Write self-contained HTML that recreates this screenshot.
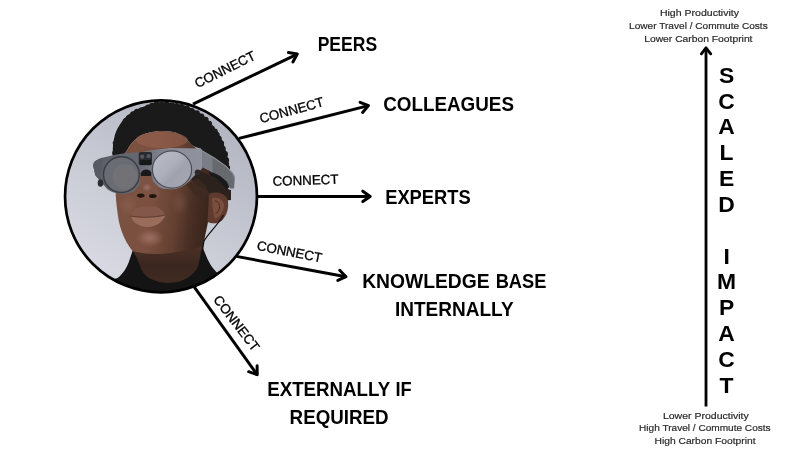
<!DOCTYPE html>
<html><head><meta charset="utf-8"><style>
html,body{margin:0;padding:0;background:#fff;width:800px;height:450px;overflow:hidden}
svg{display:block;will-change:transform}
text{font-family:"Liberation Sans",sans-serif}
</style></head><body>
<svg width="800" height="450" viewBox="0 0 800 450">
<rect width="800" height="450" fill="#fff"/>
<line x1="193.0" y1="104.2" x2="297.3" y2="54.1" stroke="#000" stroke-width="3"/><polyline points="292.9,61.9 297.3,54.1 288.4,52.6" fill="none" stroke="#000" stroke-width="3" stroke-linecap="round" stroke-linejoin="round"/>
<line x1="239.0" y1="138.4" x2="368.5" y2="105.6" stroke="#000" stroke-width="3"/><polyline points="362.6,112.4 368.5,105.6 360.1,102.4" fill="none" stroke="#000" stroke-width="3" stroke-linecap="round" stroke-linejoin="round"/>
<line x1="257.6" y1="196.4" x2="370.2" y2="196.4" stroke="#000" stroke-width="3"/><polyline points="362.8,201.6 370.2,196.4 362.8,191.2" fill="none" stroke="#000" stroke-width="3" stroke-linecap="round" stroke-linejoin="round"/>
<line x1="236.4" y1="256.4" x2="346.0" y2="276.7" stroke="#000" stroke-width="3"/><polyline points="337.8,280.4 346.0,276.7 339.7,270.3" fill="none" stroke="#000" stroke-width="3" stroke-linecap="round" stroke-linejoin="round"/>
<line x1="194.0" y1="286.7" x2="257.2" y2="374.7" stroke="#000" stroke-width="3"/><polyline points="248.7,371.7 257.2,374.7 257.1,365.7" fill="none" stroke="#000" stroke-width="3" stroke-linecap="round" stroke-linejoin="round"/>
<defs><clipPath id="cc"><circle cx="161" cy="196.4" r="96.3"/></clipPath></defs>
<g clip-path="url(#cc)"><defs>
<linearGradient id="bg" x1="0.8" y1="0" x2="0.2" y2="1">
<stop offset="0" stop-color="#aeb1bd"/><stop offset="0.55" stop-color="#c9cbd5"/><stop offset="1" stop-color="#dcdde6"/>
</linearGradient>
<linearGradient id="skin" x1="0" y1="0" x2="1" y2="0.2">
<stop offset="0" stop-color="#7a513f"/><stop offset="0.45" stop-color="#7b5040"/><stop offset="0.7" stop-color="#634031"/><stop offset="0.85" stop-color="#4a2f25"/><stop offset="1" stop-color="#3a251d"/>
</linearGradient>
<radialGradient id="hl" cx="0.5" cy="0.5" r="0.5">
<stop offset="0" stop-color="#a4766a" stop-opacity="0.8"/><stop offset="1" stop-color="#a4766a" stop-opacity="0"/>
</radialGradient>
<linearGradient id="rlens" x1="0" y1="0" x2="1" y2="1">
<stop offset="0" stop-color="#bcbfc9"/><stop offset="0.45" stop-color="#adb0ba"/><stop offset="0.6" stop-color="#a0a3ad"/><stop offset="1" stop-color="#a6a9b3"/>
</linearGradient>
<linearGradient id="frame" gradientUnits="userSpaceOnUse" x1="93" y1="0" x2="205" y2="0">
<stop offset="0" stop-color="#5b5e67"/><stop offset="0.4" stop-color="#656871"/><stop offset="0.6" stop-color="#7f828c"/><stop offset="0.8" stop-color="#8d909a"/><stop offset="1" stop-color="#90939d"/>
</linearGradient>
<linearGradient id="neck" x1="0" y1="0" x2="0" y2="1">
<stop offset="0" stop-color="#4a3026"/><stop offset="0.5" stop-color="#3b271f"/><stop offset="1" stop-color="#412b22"/>
</linearGradient>
</defs>
<rect x="60" y="95" width="205" height="205" fill="url(#bg)"/>
<!-- hair -->
<path d="M113,158 C112.5,150 113,143 114,139 C115,133 117,129 119,126 C122,121 126,116 131.5,112.6 C135,110 138,109 140.3,108.3 C143,107 145,106 147.3,105.6 C150,104 153,103.2 156,103 C160,102.3 163,102.5 166.5,102.7 C170,102.7 174,103.3 177,103.9 C181,104.5 184,105.5 187.5,106.5 C191,108 195,110 198,111.8 C201.5,114 204.5,116.5 206.8,118.8 C209.5,121.5 212,124.5 213.8,127.5 C216.5,131 219,135 220.8,138 C223,142 224.3,145 225.1,148.5 C226.5,152 227.5,156 228.5,162 L231,184 L224,195 L212,190 L205,156 C203,152 201.5,150 200.6,148.5 C195,147 193,146 191,144.5 C189.5,142 187,139.5 184,137.5 C180.5,134.5 177,132.6 173.5,131.9 C168,131.3 164,131 159.5,131 C154,131.5 149.5,132.5 145.5,133.6 C141,135 138,137 135,139.8 C131.5,143 129,146.5 127.1,150.3 L118,162 Z" fill="#1b1a1b"/>
<g fill="#1b1a1b"><circle cx="114.3" cy="157.8" r="2.5"/><circle cx="114.8" cy="152.9" r="2.6"/><circle cx="116.0" cy="148.1" r="3.0"/><circle cx="114.8" cy="143.1" r="2.2"/><circle cx="117.4" cy="138.3" r="2.5"/><circle cx="119.7" cy="133.5" r="3.4"/><circle cx="121.8" cy="129.6" r="3.2"/><circle cx="124.1" cy="125.7" r="3.0"/><circle cx="125.7" cy="121.3" r="3.0"/><circle cx="129.1" cy="117.5" r="2.8"/><circle cx="133.1" cy="114.3" r="3.0"/><circle cx="137.1" cy="111.9" r="3.1"/><circle cx="141.4" cy="109.9" r="2.6"/><circle cx="148.2" cy="107.6" r="3.2"/><circle cx="152.2" cy="105.8" r="3.1"/><circle cx="156.4" cy="104.5" r="3.1"/><circle cx="161.4" cy="104.1" r="2.7"/><circle cx="166.5" cy="103.9" r="2.7"/><circle cx="171.5" cy="105.8" r="3.3"/><circle cx="176.7" cy="105.4" r="2.4"/><circle cx="181.5" cy="107.4" r="3.4"/><circle cx="186.7" cy="108.4" r="3.0"/><circle cx="191.8" cy="110.7" r="2.8"/><circle cx="197.1" cy="112.9" r="2.6"/><circle cx="201.4" cy="116.3" r="2.9"/><circle cx="205.6" cy="119.7" r="3.0"/><circle cx="208.9" cy="124.0" r="3.2"/><circle cx="211.8" cy="128.5" r="3.0"/><circle cx="214.6" cy="131.6" r="3.2"/><circle cx="216.4" cy="135.1" r="3.3"/><circle cx="218.6" cy="138.5" r="3.1"/><circle cx="220.9" cy="143.5" r="3.2"/><circle cx="223.2" cy="148.5" r="2.5"/><circle cx="224.8" cy="154.1" r="3.2"/><circle cx="226.9" cy="159.9" r="2.3"/><circle cx="226.3" cy="163.6" r="2.7"/><circle cx="227.5" cy="167.7" r="2.6"/></g>
<!-- face skin -->
<path d="M127.1,150.3 C129,146.5 131.5,143 135,139.8 C138,137 141,135 145.5,133.6 C149.5,132.5 154,131.5 159.5,131 C164,131 168,131.3 173.5,131.9 C177,132.6 180.5,134.5 184,137.5 C187,139.5 189.5,142 191,144.5 C193,146 195,147 197,149 C203,152 205,156 206,158 L210,175 L213,192 L208,222 C206,232 204,240 203,248 L202,262 L200,275 L160,290 L135,280 L132.5,251 C127,244 122,235 119,222 C117,210 115.6,198 115.6,190 L114,165 Z" fill="url(#skin)"/>
<!-- dark right side of face under arm -->
<path d="M190,178 L199,171 L216,178 L226,188.5 L231,190 L231,200 L222,201 L213,196 L206,190 L198,186 Z" fill="#2b211d"/>
<path d="M186,184 L198,178 L206,186 L210,196 L204,200 L194,194 Z" fill="#3d2a22" opacity="0.8"/>
<!-- ear -->
<path d="M209,194 C215,191 224,192.5 227.5,199 C229.5,207 227,215 222,220.5 C218,224 212,224 207.5,222 Z" fill="#5e3b2e"/>
<path d="M212,198 C218,196 223,199.5 224,205 C224,211 220.5,216 215,219 C213,214 212,205 212,198 Z" fill="#7a4d3c"/>
<path d="M215,201 C218,201 220,204 219.5,208 C219,211 217,213 215.5,214" fill="none" stroke="#4a2d22" stroke-width="1"/>
<!-- neck shadow -->
<path d="M132.5,251 C140,253 150,254.5 160,254 C175,253 190,250 202,246.5 L202,262 L197,272 L180,283 L160,285 L140,276 Z" fill="url(#neck)"/>
<!-- highlights -->
<ellipse cx="150" cy="238" rx="14" ry="9" fill="url(#hl)"/>
<ellipse cx="162" cy="140" rx="26" ry="8" fill="#9a6350" opacity="0.55"/>
<ellipse cx="128" cy="205" rx="10" ry="12" fill="url(#hl)" opacity="0.35"/>
<ellipse cx="180" cy="203" rx="9" ry="12" fill="url(#hl)" opacity="0.3"/>
<!-- lips -->
<path d="M130,216 C134,208 141,205.5 148,207 C154,205.5 161,207 165.5,214.5 C158,216.5 148,217 138,217 Z" fill="#83584a"/>
<path d="M131,216.5 C140,218 156,218 165.5,215 C163,222 156,227 148,227 C139,227 133,222.5 131,216.5 Z" fill="#9a6c5c"/>
<path d="M130,216 C140,217.8 156,217.8 165.5,214.8" fill="none" stroke="#5a382c" stroke-width="0.8"/>
<!-- nose -->
<path d="M141,176 C140,182 137,186.5 135,190.5 C133.5,194.5 135.5,198.5 140,199.2 L154,199.6 C158.5,199.2 160.5,196 159,192 C157,188 153.5,182 152,176 Z" fill="#7c5242"/>
<ellipse cx="147" cy="187.5" rx="5" ry="4.5" fill="url(#hl)"/>
<ellipse cx="140.8" cy="195.6" rx="3.8" ry="2.1" fill="#24160f"/>
<ellipse cx="152.8" cy="196" rx="3.8" ry="2.1" fill="#24160f"/>
<!-- collar -->
<path d="M40,300 L117.5,278 C122,275 127,268 129.5,260 L132.5,251 C135,254 138,260 140,266 C142,272 146,277 152,279.5 C158,282 163,283 167,283 C172,283 177,282 181,281 C187,279 193,274 197,269 C199,265 200,258 201,251 L203,248 C205,253 207,258 208,260 C211,266 214,270 218,273.5 L270,290 L270,300 Z" fill="#141414"/>
<!-- cable -->
<path d="M223.5,215 C217,226 208,234 204,241 L202.5,250" fill="none" stroke="#111" stroke-width="1.2"/>
<!-- glasses frame -->
<path d="M93.2,166 C93,163 94.5,161 97,160 L100.4,158.3 L114,155 L126.5,152.9 L140.1,152.2 L152.7,150 L170,148 L199,148.5 C201.5,148.7 203,150 203.2,152.5 L203,166 C202.5,168.5 201,170 199.1,171.1 L191.9,178.3 C189,182 185,185 184.7,184.8 C180,188 176,189.5 171.7,189.2 C166,189.3 161,188.5 158.7,187 L152.9,181.2 L151.3,172.7 L146,171.3 L140.7,173.3 L139.3,185.3 L134,191.3 C130,193.5 125,194.3 120.7,194 C115,193.5 110,191.5 107.3,189.3 L99.3,180 L95.3,174.7 Z" fill="url(#frame)"/>
<!-- arm -->
<path d="M202.5,151 L214.7,158.3 L225.8,166.1 L232.4,172.8 C234,175 234.8,177 234.7,179 L234.1,188.5 L230,188.5 L226.9,181.7 L220.2,176.1 L209.1,170.6 L202.4,167.2 Z" fill="#67696f"/>
<path d="M202.5,151 L212.5,157.2 L212.5,173 L209.1,170.6 L202.4,167.2 Z" fill="#7b7e86"/>
<path d="M202.5,151 L214.7,158.3 L225.8,166.1 L232.4,172.8 C234,175 234.8,177 234.7,179" fill="none" stroke="#8b8e96" stroke-width="1.2"/>
<!-- left end face -->
<path d="M93.2,166 C93,163 94.5,161 97,160 L103,157.5 L101,170 L99.3,180 L95.3,175.5 Z" fill="#575a63"/>
<!-- temple bump -->
<ellipse cx="100.5" cy="183" rx="2.8" ry="3.8" fill="#2b2c30"/>
<!-- left lens -->
<ellipse cx="121.4" cy="174.6" rx="17.9" ry="17.9" fill="#6a6c74" stroke="#3a3c42" stroke-width="1.4"/>
<circle cx="125" cy="176.5" r="12.5" fill="#727175"/>
<!-- right lens -->
<ellipse cx="172" cy="169.5" rx="19.6" ry="18.6" fill="url(#rlens)" stroke="#4a4d55" stroke-width="1.2"/>
<!-- camera -->
<rect x="138.7" y="152" width="13.3" height="13.3" rx="2" fill="#2a2b2f"/>
<circle cx="142.2" cy="156.7" r="2.1" fill="#55575d"/>
<circle cx="148.6" cy="156.2" r="2.1" fill="#55575d"/>
<rect x="140" y="160" width="11" height="5" fill="#17181a"/>
<!-- bridge underside -->
<path d="M140.7,173.3 C142,170.5 144,169.5 146,169.5 C148.5,169.5 150.5,170.5 151.3,172.7 L151,176 L141,176 Z" fill="#19191b"/>
<!-- sensor -->
<circle cx="197.7" cy="172.6" r="3" fill="#2a2a2c"/>
</g>
<circle cx="161" cy="196.4" r="95.95" fill="none" stroke="#000" stroke-width="2.7"/>
<text x="0" y="0" transform="translate(225.0,69.6) rotate(-26.5)" font-size="13.4" text-anchor="middle" dominant-baseline="central" fill="#000" stroke="#000" stroke-width="0.3" textLength="66" lengthAdjust="spacingAndGlyphs">CONNECT</text>
<text x="0" y="0" transform="translate(291.7,110.3) rotate(-15.3)" font-size="13.4" text-anchor="middle" dominant-baseline="central" fill="#000" stroke="#000" stroke-width="0.3" textLength="66" lengthAdjust="spacingAndGlyphs">CONNECT</text>
<text x="0" y="0" transform="translate(305.5,180.3) rotate(-1.6)" font-size="13.4" text-anchor="middle" dominant-baseline="central" fill="#000" stroke="#000" stroke-width="0.3" textLength="66" lengthAdjust="spacingAndGlyphs">CONNECT</text>
<text x="0" y="0" transform="translate(289.5,251.75) rotate(11.0)" font-size="13.4" text-anchor="middle" dominant-baseline="central" fill="#000" stroke="#000" stroke-width="0.3" textLength="66" lengthAdjust="spacingAndGlyphs">CONNECT</text>
<text x="0" y="0" transform="translate(236.5,323.2) rotate(52.5)" font-size="13.4" text-anchor="middle" dominant-baseline="central" fill="#000" stroke="#000" stroke-width="0.3" textLength="66" lengthAdjust="spacingAndGlyphs">CONNECT</text>
<text x="317.7" y="51.2" font-size="20" font-weight="bold" fill="#000" textLength="59.4" lengthAdjust="spacingAndGlyphs">PEERS</text>
<text x="383.2" y="111.2" font-size="20" font-weight="bold" fill="#000" textLength="130.8" lengthAdjust="spacingAndGlyphs">COLLEAGUES</text>
<text x="385.2" y="204.1" font-size="20" font-weight="bold" fill="#000" textLength="85.5" lengthAdjust="spacingAndGlyphs">EXPERTS</text>
<text x="362.2" y="287.5" font-size="20" font-weight="bold" fill="#000" textLength="127.4" lengthAdjust="spacingAndGlyphs">KNOWLEDGE</text>
<text x="495.7" y="287.5" font-size="20" font-weight="bold" fill="#000" textLength="50.7" lengthAdjust="spacingAndGlyphs">BASE</text>
<text x="394.9" y="316.25" font-size="20" font-weight="bold" fill="#000" textLength="118.7" lengthAdjust="spacingAndGlyphs">INTERNALLY</text>
<text x="267.2" y="396" font-size="20" font-weight="bold" fill="#000" textLength="123.0" lengthAdjust="spacingAndGlyphs">EXTERNALLY</text>
<text x="395.4" y="396" font-size="20" font-weight="bold" fill="#000" textLength="16.2" lengthAdjust="spacingAndGlyphs">IF</text>
<text x="289.6" y="424.4" font-size="20" font-weight="bold" fill="#000" textLength="99.0" lengthAdjust="spacingAndGlyphs">REQUIRED</text>
<text x="659.9" y="16.3" font-size="9.7" fill="#2a2a2a" stroke="#2a2a2a" stroke-width="0.2" textLength="79.1" lengthAdjust="spacingAndGlyphs">High Productivity</text>
<text x="629.1" y="28.9" font-size="9.7" fill="#2a2a2a" stroke="#2a2a2a" stroke-width="0.2" textLength="138.6" lengthAdjust="spacingAndGlyphs">Lower Travel / Commute Costs</text>
<text x="644.2" y="42.3" font-size="9.7" fill="#2a2a2a" stroke="#2a2a2a" stroke-width="0.2" textLength="108.3" lengthAdjust="spacingAndGlyphs">Lower Carbon Footprint</text>
<text x="662.9" y="418.5" font-size="9.7" fill="#2a2a2a" stroke="#2a2a2a" stroke-width="0.2" textLength="85.9" lengthAdjust="spacingAndGlyphs">Lower Productivity</text>
<text x="639.1" y="431.2" font-size="9.7" fill="#2a2a2a" stroke="#2a2a2a" stroke-width="0.2" textLength="131.5" lengthAdjust="spacingAndGlyphs">High Travel / Commute Costs</text>
<text x="654.5" y="444.0" font-size="9.7" fill="#2a2a2a" stroke="#2a2a2a" stroke-width="0.2" textLength="101.0" lengthAdjust="spacingAndGlyphs">High Carbon Footprint</text>
<text x="0" y="0" transform="translate(726.6,82.80) scale(1.07,1)" font-size="21.4" font-weight="bold" text-anchor="middle" fill="#000">S</text>
<text x="0" y="0" transform="translate(726.6,108.63) scale(1.07,1)" font-size="21.4" font-weight="bold" text-anchor="middle" fill="#000">C</text>
<text x="0" y="0" transform="translate(726.6,134.46) scale(1.07,1)" font-size="21.4" font-weight="bold" text-anchor="middle" fill="#000">A</text>
<text x="0" y="0" transform="translate(726.6,160.29) scale(1.07,1)" font-size="21.4" font-weight="bold" text-anchor="middle" fill="#000">L</text>
<text x="0" y="0" transform="translate(726.6,186.12) scale(1.07,1)" font-size="21.4" font-weight="bold" text-anchor="middle" fill="#000">E</text>
<text x="0" y="0" transform="translate(726.6,211.95) scale(1.07,1)" font-size="21.4" font-weight="bold" text-anchor="middle" fill="#000">D</text>
<text x="0" y="0" transform="translate(726.6,263.61) scale(1.07,1)" font-size="21.4" font-weight="bold" text-anchor="middle" fill="#000">I</text>
<text x="0" y="0" transform="translate(726.6,289.44) scale(1.07,1)" font-size="21.4" font-weight="bold" text-anchor="middle" fill="#000">M</text>
<text x="0" y="0" transform="translate(726.6,315.27) scale(1.07,1)" font-size="21.4" font-weight="bold" text-anchor="middle" fill="#000">P</text>
<text x="0" y="0" transform="translate(726.6,341.10) scale(1.07,1)" font-size="21.4" font-weight="bold" text-anchor="middle" fill="#000">A</text>
<text x="0" y="0" transform="translate(726.6,366.93) scale(1.07,1)" font-size="21.4" font-weight="bold" text-anchor="middle" fill="#000">C</text>
<text x="0" y="0" transform="translate(726.6,392.76) scale(1.07,1)" font-size="21.4" font-weight="bold" text-anchor="middle" fill="#000">T</text>
<line x1="706" y1="406.6" x2="706" y2="48.5" stroke="#000" stroke-width="2.8"/>
<polyline points="701.4,53.8 706,47.9 710.7,53.8" fill="none" stroke="#000" stroke-width="2.9" stroke-linecap="round" stroke-linejoin="round"/>
</svg></body></html>
